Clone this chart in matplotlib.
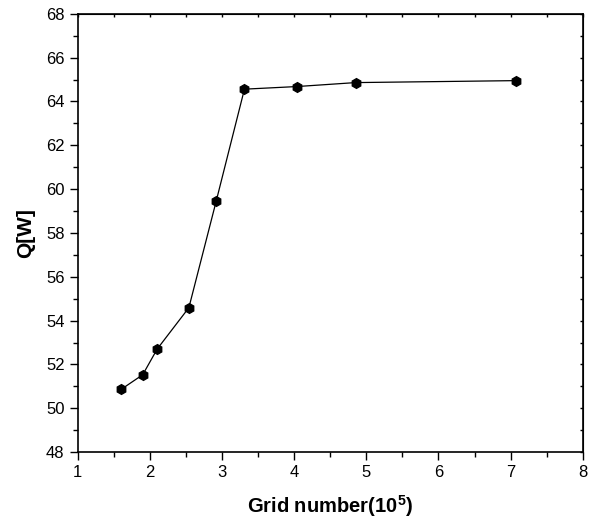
import numpy as np
import matplotlib
matplotlib.use('Agg')
import matplotlib.pyplot as plt
from matplotlib.ticker import MultipleLocator

# grid number (x 10^5) vs heat Q [W]
grid = [1.60, 1.90, 2.10, 2.54, 2.92, 3.31, 4.04, 4.85, 7.08]
q = [50.86, 51.53, 52.70, 54.59, 59.47, 64.56, 64.68, 64.86, 64.95]

plt.rcParams['font.family'] = ['Liberation Sans', 'DejaVu Sans']
plt.rcParams['mathtext.fontset'] = 'custom'
plt.rcParams['mathtext.bf'] = 'Liberation Sans:bold'

fig = plt.figure(figsize=(5.94, 5.30), dpi=100)
ax = fig.add_axes([0.131, 0.147, 0.850, 0.827])

ax.plot(grid, q, color='black', lw=0.9, marker='h', ms=7, mfc='black', mec='black')

ax.set_xlim(1, 8)
ax.set_ylim(48, 68)
ax.xaxis.set_major_locator(MultipleLocator(1))
ax.xaxis.set_minor_locator(MultipleLocator(0.5))
ax.yaxis.set_major_locator(MultipleLocator(2))
ax.yaxis.set_minor_locator(MultipleLocator(1))
ax.tick_params(which='major', direction='out', length=6, width=1, labelsize=12)
ax.tick_params(which='minor', direction='out', length=3.5, width=1)
for s in ax.spines.values():
    s.set_linewidth(1.2)

# inward ticks on top and right
tx = ax.secondary_xaxis('top')
tx.set_xticks(np.arange(1, 8.01, 0.5))
tx.tick_params(direction='in', length=2.5, width=1, labeltop=False)
ty = ax.secondary_yaxis('right')
ty.set_yticks(np.arange(48, 68.01, 1))
ty.tick_params(direction='in', length=2.5, width=1, labelright=False)

ax.set_xlabel('Grid number(10$^\\mathbf{5}$)', fontsize=14.5, fontweight='bold', labelpad=9)
ax.set_ylabel('Q[W]', fontsize=15, fontweight='bold', labelpad=8)

fig.savefig('out.png', dpi=100)
